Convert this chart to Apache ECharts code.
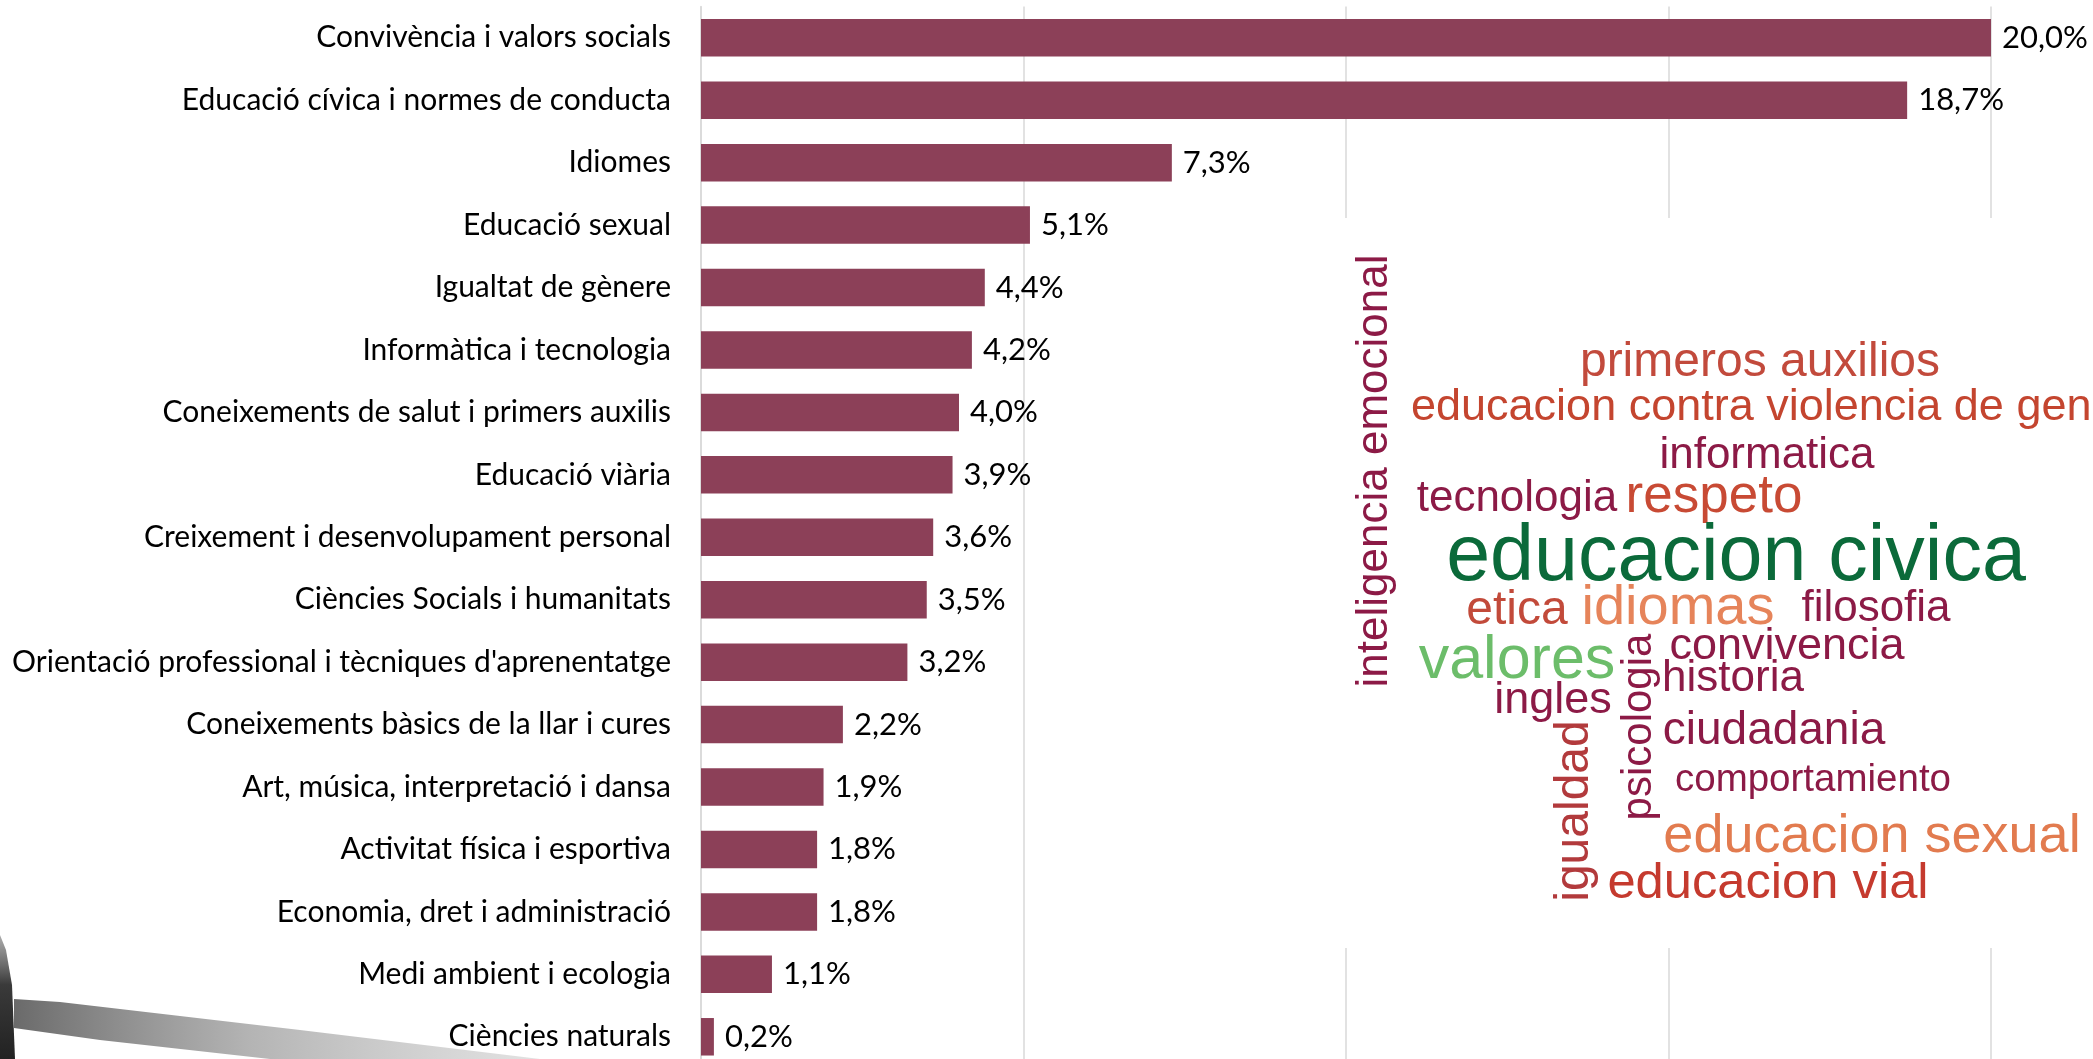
<!DOCTYPE html>
<html>
<head>
<meta charset="utf-8">
<script src="https://cdn.jsdelivr.net/npm/echarts@6/dist/echarts.min.js"></script>
<style>
html,body{margin:0;padding:0;background:#fff;overflow:hidden;}
#chart{width:2093px;height:1068px;}
</style>
</head>
<body>
<div id="chart"></div>
<script>
var categories = [
  "Convivència i valors socials",
  "Educació cívica i normes de conducta",
  "Idiomes",
  "Educació sexual",
  "Igualtat de gènere",
  "Informàtica i tecnologia",
  "Coneixements de salut i primers auxilis",
  "Educació viària",
  "Creixement i desenvolupament personal",
  "Ciències Socials i humanitats",
  "Orientació professional i tècniques d'aprenentatge",
  "Coneixements bàsics de la llar i cures",
  "Art, música, interpretació i dansa",
  "Activitat física i esportiva",
  "Economia, dret i administració",
  "Medi ambient i ecologia",
  "Ciències naturals"
];
var values = [20.0, 18.7, 7.3, 5.1, 4.4, 4.2, 4.0, 3.9, 3.6, 3.5, 3.2, 2.2, 1.9, 1.8, 1.8, 1.1, 0.2];
var xTicks = [0, 5, 10, 15, 20];

var cloudWords = [
  "inteligencia emocional",
  "primeros auxilios",
  "educacion contra violencia de genero",
  "informatica",
  "tecnologia",
  "respeto",
  "educacion civica",
  "etica",
  "idiomas",
  "filosofia",
  "valores",
  "convivencia",
  "historia",
  "ingles",
  "psicologia",
  "igualdad",
  "ciudadania",
  "comportamiento",
  "educacion sexual",
  "educacion vial"
];

// layout of the word-cloud picture: [x, y, fontSize, rotated, color, align]
var MAROON = '#8C1A46', RED = '#C24A3C', ORANGE = '#E6845A', GREEN = '#0B6A3A', LGREEN = '#6CBD6A';
var cloudLayout = [
  [1375, 471, 44, true, MAROON, 'center'],
  [1760, 363, 48, false, RED, 'center'],
  [1411, 408, 45, false, '#C4452F', 'left'],
  [1767, 456, 44, false, MAROON, 'center'],
  [1517, 499, 44, false, MAROON, 'center'],
  [1714, 497, 53, false, '#C84A34', 'center'],
  [1736, 558, 79, false, GREEN, 'center'],
  [1517, 611, 48, false, '#C24A3A', 'center'],
  [1678, 609, 56, false, ORANGE, 'center'],
  [1876, 609, 44, false, MAROON, 'center'],
  [1517, 661, 61, false, LGREEN, 'center'],
  [1787, 647, 45, false, MAROON, 'center'],
  [1733, 679, 44, false, MAROON, 'center'],
  [1553, 701, 45, false, MAROON, 'center'],
  [1639, 727, 42, true, MAROON, 'center'],
  [1575, 811, 48, true, '#B23A3C', 'center'],
  [1774, 731, 46, false, MAROON, 'center'],
  [1813, 780, 38.5, false, MAROON, 'center'],
  [1872, 837, 54, false, '#E27B4F', 'center'],
  [1768, 884, 50.7, false, '#C53A2E', 'center']
];

function fmt(v) { return v.toFixed(1).replace('.', ',') + '%'; }

var graphics = [
  // objects from the background picture in the bottom-left corner
  {type:'polygon', z:-10, shape:{points:[[14,999],[60,1002],[300,1030],[540,1059],[270,1059],[100,1040],[14,1028]]},
   style:{fill:{type:'linear',x:0,y:0,x2:1,y2:0,colorStops:[{offset:0,color:'rgba(80,80,80,0.85)'},{offset:0.45,color:'rgba(140,140,140,0.65)'},{offset:1,color:'rgba(190,190,190,0.45)'}]}}},
  {type:'polygon', z:-9, shape:{points:[[0,935],[6,950],[12,985],[15,1059],[0,1059]]},
   style:{fill:{type:'linear',x:0,y:0,x2:0,y2:1,colorStops:[{offset:0,color:'rgba(90,90,90,0.5)'},{offset:0.4,color:'#3a3a3a'},{offset:1,color:'#222'}]}}},
  // white backdrop of the word-cloud picture
  {type:'rect', z:50, shape:{x:1330, y:218, width:763, height:730}, style:{fill:'#ffffff'}}
];
cloudWords.forEach(function (w, i) {
  var L = cloudLayout[i];
  graphics.push({
    type:'text', z:51, x:L[0], y:L[1], rotation: L[3] ? Math.PI/2 : 0,
    style:{text:w, fill:L[4], font: L[2] + 'px "Liberation Sans", Arial, sans-serif',
           textAlign:L[5], textVerticalAlign:'middle'}
  });
});

var chart = echarts.init(document.getElementById('chart'));
chart.setOption({
  backgroundColor:'#ffffff',
  animation:false,
  grid:{left:701, right:102, top:6.6, bottom:0, containLabel:false},
  xAxis:{type:'value', min:xTicks[0], max:xTicks[xTicks.length-1], interval:xTicks[1]-xTicks[0],
    axisLabel:{show:false}, axisLine:{show:false}, axisTick:{show:false},
    splitLine:{show:true, lineStyle:{color:'#d9d9d9', width:1.5}}},
  yAxis:{type:'category', data:categories, inverse:true,
    axisLine:{show:true, lineStyle:{color:'#d9d9d9', width:1.5}}, axisTick:{show:false},
    axisLabel:{color:'#000', fontFamily:'Lato', fontSize:30, margin:30}},
  series:[{type:'bar', data:values, barWidth:37.5,
    itemStyle:{color:'#8C4058'},
    label:{show:true, position:'right', distance:11, color:'#000', fontFamily:'Lato', fontSize:31,
      formatter:function(p){return fmt(p.value);}}}],
  graphic:graphics
});
</script>
</body>
</html>
